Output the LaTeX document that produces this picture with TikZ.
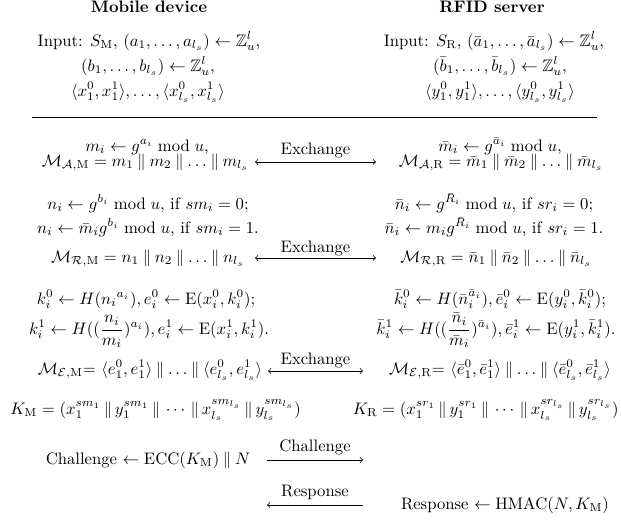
\documentclass[tikz,border=0pt]{standalone}
\usepackage{amsmath,amssymb}
\newcommand{\catsep}{\mathbin{\|}}
\newcommand{\keysep}{\,\|\,}
\begin{document}
\begin{tikzpicture}[x=0.6pt,y=-0.6pt,
  txt/.style={inner sep=0pt, anchor=base},
  conn/.style={line width=0.45pt, >=to},
  rulestyle/.style={line width=0.6pt}]
\useasboundingbox (0,0) rectangle (621,520);
% headers
\node[txt] (hl) at (149,12.5) {\bfseries Mobile device};
\node[txt] (hr) at (492,12.5) {\bfseries RFID server};
% inputs
\node[txt] (il1) at (149,46) {Input: $S_{\mathrm{M}}$, $(a_1,\ldots,a_{l_s})\leftarrow\mathbb{Z}_u^l$,};
\node[txt] (il2) at (148,71) {$(b_1,\ldots,b_{l_s})\leftarrow\mathbb{Z}_u^l$,};
\node[txt] (il3) at (148,96) {$\langle x_1^0,x_1^1\rangle,\ldots,\langle x_{l_s}^0,x_{l_s}^1\rangle$};
\node[txt] (ir1) at (494,46) {Input: $S_{\mathrm{R}}$, $(\bar a_1,\ldots,\bar a_{l_s})\leftarrow\mathbb{Z}_u^l$,};
\node[txt] (ir2) at (500,71) {$(\bar b_1,\ldots,\bar b_{l_s})\leftarrow\mathbb{Z}_u^l$,};
\node[txt] (ir3) at (500,96) {$\langle y_1^0,y_1^1\rangle,\ldots,\langle y_{l_s}^0,y_{l_s}^1\rangle$};
\coordinate (rl) at (32,117);
\coordinate (rr) at (597,117);
\draw[rulestyle] (rl) -- (rr);
% block 1
\node[txt] (al1) at (147,151) {$m_i\leftarrow g^{a_i}\bmod u$,};
\node[txt, anchor=base east] (al2) at (249,166) {$\mathcal{M}_{\mathcal{A},\mathrm{M}}=m_1\catsep m_2\catsep\ldots\catsep m_{l_s}$};
\node[txt] (ar1) at (500,151) {$\bar m_i\leftarrow g^{\bar a_i}\bmod u$,};
\node[txt] (ar2) at (501,166) {$\mathcal{M}_{\mathcal{A},\mathrm{R}}=\bar m_1\catsep \bar m_2\catsep\ldots\catsep \bar m_{l_s}$};
\coordinate (e1a) at (255,162);
\coordinate (e1b) at (376,162);
\draw[conn,<->] (e1a) -- (e1b);
\node[txt] (e1l) at (315.5,154) {Exchange};
% block 2
\node[txt] (bl1) at (148,209) {$n_i\leftarrow g^{b_i}\bmod u$, if $sm_i=0$;};
\node[txt] (bl2) at (148,233) {$n_i\leftarrow \bar m_i g^{b_i}\bmod u$, if $sm_i=1$.};
\node[txt, anchor=base east] (bl3) at (245,262) {$\mathcal{M}_{\mathcal{R},\mathrm{M}}=n_1\catsep n_2\catsep\ldots\catsep n_{l_s}$};
\node[txt] (br1) at (494,209) {$\bar n_i\leftarrow g^{\bar R_i}\bmod u$, if $sr_i=0$;};
\node[txt] (br2) at (494,233) {$\bar n_i\leftarrow m_i g^{\bar R_i}\bmod u$, if $sr_i=1$.};
\node[txt] (br3) at (496,262) {$\mathcal{M}_{\mathcal{R},\mathrm{R}}=\bar n_1\catsep \bar n_2\catsep\ldots\catsep \bar n_{l_s}$};
\coordinate (e2a) at (255,258);
\coordinate (e2b) at (376,258);
\draw[conn,<->] (e2a) -- (e2b);
\node[txt] (e2l) at (315.5,252) {Exchange};
% block 3
\node[txt] (cl1) at (146,304) {$k_i^0\leftarrow H({n_i}^{a_i}), e_i^0\leftarrow \mathrm{E}(x_i^0,k_i^0)$;};
\node[txt] (cl2) at (149,334) {$k_i^1\leftarrow H((\dfrac{n_i}{m_i})^{a_i}), e_i^1\leftarrow \mathrm{E}(x_i^1,k_i^1)$.};
\node[txt] (cl3) at (150,374) {$\mathcal{M}_{\mathcal{E},\mathrm{M}}{=}\ \langle e_1^0,e_1^1\rangle\catsep\ldots\catsep\langle e_{l_s}^0,e_{l_s}^1\rangle$};
\node[txt] (cr1) at (500,304) {$\bar k_i^0\leftarrow H(\bar n_i^{\bar a_i}), \bar e_i^0\leftarrow \mathrm{E}(y_i^0,\bar k_i^0)$;};
\node[txt] (cr2) at (496,334) {$\bar k_i^1\leftarrow H((\dfrac{\bar n_i}{\bar m_i})^{\bar a_i}), \bar e_i^1\leftarrow \mathrm{E}(y_i^1,\bar k_i^1)$.};
\node[txt] (cr3) at (500,374) {$\mathcal{M}_{\mathcal{E},\mathrm{R}}{=}\ \langle \bar e_1^0,\bar e_1^1\rangle\catsep\ldots\catsep\langle \bar e_{l_s}^0,\bar e_{l_s}^1\rangle$};
\coordinate (e3a) at (268,371);
\coordinate (e3b) at (363,371);
\draw[conn,<->] (e3a) -- (e3b);
\node[txt] (e3l) at (315.5,364) {Exchange};
% keys
\node[txt, anchor=base west] (kl) at (10,414) {$K_{\mathrm{M}}=(x_1^{sm_1}\keysep y_1^{sm_1}\keysep\cdots\keysep x_{l_s}^{sm_{l_s}}\keysep y_{l_s}^{sm_{l_s}})$};
\node[txt, anchor=base east] (kr) at (619,414) {$K_{\mathrm{R}}=(x_1^{sr_1}\keysep y_1^{sr_1}\keysep\cdots\keysep x_{l_s}^{sr_{l_s}}\keysep y_{l_s}^{sr_{l_s}})$};
% challenge
\node[txt] (ch) at (148,464) {Challenge $\leftarrow \mathrm{ECC}(K_{\mathrm{M}})\catsep N$};
\coordinate (c1a) at (267,460);
\coordinate (c1b) at (363,460);
\draw[conn,->] (c1a) -- (c1b);
\node[txt] (chl) at (315,451) {Challenge};
% response
\node[txt] (rs) at (505,509) {Response $\leftarrow \mathrm{HMAC}(N,K_{\mathrm{M}})$};
\coordinate (r1a) at (363,505);
\coordinate (r1b) at (267,505);
\draw[conn,->] (r1a) -- (r1b);
\node[txt] (rsl) at (315,496) {Response};
\end{tikzpicture}
\end{document}
